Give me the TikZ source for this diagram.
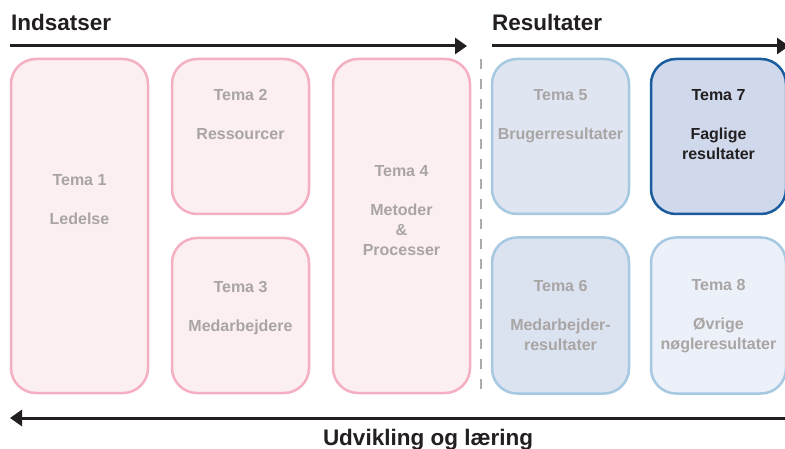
\documentclass[tikz,border=0pt]{standalone}
\usepackage{fontspec}
\setmainfont{Liberation Sans}
\usetikzlibrary{arrows.meta}
\definecolor{sort}{HTML}{231F20}
\definecolor{pinkrand}{HTML}{F4B0C2}
\definecolor{pinkfyld}{HTML}{FCEFEF}
\definecolor{blaarand}{HTML}{A7C8E1}
\definecolor{moerkblaa}{HTML}{1A5C9E}
\definecolor{blaafyld5}{HTML}{DFE5F1}
\definecolor{blaafyld6}{HTML}{DCE3F0}
\definecolor{blaafyld7}{HTML}{CFD9EB}
\definecolor{blaafyld8}{HTML}{ECF0F8}
\definecolor{graatekst}{HTML}{A9A5A5}
\definecolor{graastreg}{HTML}{AAAAAA}
\begin{document}
\begin{tikzpicture}[x=1pt,y=-1pt,
  boks/.style={draw, line width=2.5pt, rounded corners=25pt, inner sep=0pt},
  indsats/.style={boks, draw=pinkrand, fill=pinkfyld, minimum width=137pt},
  resultat/.style={boks, draw=blaarand, minimum width=137pt},
  tekst/.style={font=\fontsize{16}{20}\selectfont\bfseries, text=graatekst, align=center, anchor=north, inner sep=0pt},
  overskrift/.style={font=\fontsize{22.5}{27}\selectfont\bfseries, text=sort, inner sep=0pt},
  pil/.style={line width=3pt, draw=sort, -{Triangle[length=12pt,width=16pt]}}]
\useasboundingbox (0,0) rectangle (785,449);
% overskrifter og pile
\node[overskrift, anchor=base west] (indsatser) at (11,31) {Indsatser};
\node[overskrift, anchor=base west] (resultater) at (492,31) {Resultater};
\node[overskrift, anchor=base] (laering) at (428,445) {Udvikling og læring};
\coordinate (i start) at (10,46);
\coordinate (i slut) at (467,46);
\coordinate (r start) at (492,46);
\coordinate (r slut) at (789,46);
\coordinate (l start) at (786,418);
\coordinate (l slut) at (10,418);
\draw[pil] (i start) -- (i slut);
\draw[pil] (r start) -- (r slut);
\draw[pil] (l start) -- (l slut);
% skillelinje
\draw[graastreg, line width=2.5pt, dash pattern=on 10pt off 10pt] (481,59) -- (481,393);
% indsatser
\node[indsats, minimum height=334pt] (b1) at (79.5,226) {};
\node[indsats, minimum height=155pt] (b2) at (240.5,136.5) {};
\node[indsats, minimum height=155pt] (b3) at (240.5,315.5) {};
\node[indsats, minimum height=334pt] (b4) at (401.5,226) {};
% resultater
\node[resultat, fill=blaafyld5, minimum height=155pt] (b5) at (560.5,136.5) {};
\node[resultat, fill=blaafyld6, minimum height=156pt] (b6) at (560.5,315.5) {};
\node[resultat, draw=moerkblaa, fill=blaafyld7, minimum width=135pt, minimum height=155pt] (b7) at (718.5,136.5) {};
\node[resultat, fill=blaafyld8, minimum width=135pt, minimum height=156pt] (b8) at (718.5,315.5) {};
% tekster
\node[tekst] (t1) at (79.5,174) {Tema 1\\[19pt]Ledelse};
\node[tekst] (t2) at (240.5,89) {Tema 2\\[19pt]Ressourcer};
\node[tekst] (t3) at (240.5,281) {Tema 3\\[19pt]Medarbejdere};
\node[tekst] (t4) at (401.5,165) {Tema 4\\[19pt]Metoder\\\&\\Processer};
\node[tekst] (t5) at (560.5,89) {Tema 5\\[19pt]Brugerresultater};
\node[tekst] (t6) at (560.5,280) {Tema 6\\[19pt]Medarbejder-\\resultater};
\node[tekst, text=sort] (t7) at (718.5,89) {Tema 7\\[19pt]Faglige\\resultater};
\node[tekst] (t8) at (718.5,279) {Tema 8\\[19pt]Øvrige\\nøgleresultater};
\end{tikzpicture}
\end{document}
